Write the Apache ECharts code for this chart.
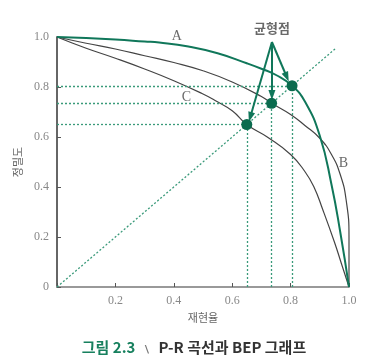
<!DOCTYPE html>
<html><head><meta charset="utf-8">
<script src="https://cdn.jsdelivr.net/npm/echarts@6/dist/echarts.min.js"></script>
<style>html,body{margin:0;padding:0;background:#fff}#c{width:388px;height:356px}</style>
</head><body><div id="c"></div>
<script>
// Curve data (recall, precision)
const curveA = [[0,1.0],[0.1,0.996],[0.2,0.99],[0.3,0.982],[0.35,0.978],[0.45,0.962],[0.55,0.935],[0.65,0.895],[0.7,0.873],[0.75,0.848],[0.805,0.805],[0.85,0.74],[0.9,0.605],[0.94,0.41],[0.97,0.22],[1.0,0.0]];
const curveB = [[0,1.0],[0.1,0.975],[0.2,0.952],[0.3,0.925],[0.4,0.898],[0.5,0.865],[0.6,0.82],[0.7,0.762],[0.735,0.735],[0.8,0.69],[0.85,0.645],[0.9,0.595],[0.94,0.53],[0.97,0.45],[0.99,0.35],[1.0,0.2],[1.0,0.0]];
const curveC = [[0,1.0],[0.1,0.955],[0.2,0.915],[0.3,0.872],[0.4,0.825],[0.5,0.772],[0.54,0.747],[0.6,0.705],[0.65,0.65],[0.72,0.6],[0.8,0.53],[0.85,0.46],[0.88,0.4],[0.91,0.31],[0.95,0.18],[0.975,0.09],[1.0,0.0]];
const bepValues = [0.805, 0.735, 0.65];
const diagonalEnd = 0.955;
const arrowStart = [0.736, 0.98];
const arrowEnds = [[0.787, 0.84], [0.736, 0.768], [0.662, 0.68]];
const curveLabels = [{name:'A', pos:[0.41, 1.004]}, {name:'B', pos:[0.981, 0.495]}, {name:'C', pos:[0.443, 0.759]}];
const calloutText = '균형점';
const calloutPos = [0.736, 1.034];
const xTicks = ['', '0.2', '0.4', '0.6', '0.8', '1.0'];
const yTicks = ['0', '0.2', '0.4', '0.6', '0.8', '1.0'];
const xName = '재현율', yName = '정밀도';

const green = '#10775a', dotGreen = '#0b6b4e', dashGreen = '#3a9a7a', dark = '#444';
const dash = {color: dashGreen, width: 1.3, type: [2, 2]};

const guideLines = [];
bepValues.forEach(v => {
  guideLines.push([{coord:[0, v]}, {coord:[v, v]}]);
  guideLines.push([{coord:[v, 0]}, {coord:[v, v]}]);
});
guideLines.push([{coord:[0, 0]}, {coord:[diagonalEnd, diagonalEnd]}]);

const chart = echarts.init(document.getElementById('c'));
chart.setOption({
  animation: false,
  grid: {left: 57, right: 39, top: 37, bottom: 69},
  title: {
    left: 'center', top: 333,
    text: '{g|그림 2.3} {s|﹨} {t|P-R 곡선과 BEP 그래프}',
    textStyle: {rich: {
      g: {color: '#17805e', fontSize: 15, fontWeight: 'bold', fontFamily: 'Noto Sans CJK KR'},
      s: {color: '#777', fontSize: 13, fontFamily: 'Noto Sans CJK KR'},
      t: {color: '#333', fontSize: 15, fontWeight: 'bold', fontFamily: 'Noto Sans CJK KR'}
    }}
  },
  xAxis: {
    type: 'value', min: 0, max: 1, interval: 0.2,
    name: xName, nameLocation: 'middle', nameGap: 24,
    nameTextStyle: {color: '#666', fontSize: 11, fontFamily: 'Noto Sans CJK KR'},
    axisLine: {lineStyle: {color: '#999', width: 2}},
    axisTick: {inside: true, length: 4, lineStyle: {color: '#555'}},
    axisLabel: {color: '#888', fontSize: 12, fontFamily: 'Liberation Serif', margin: 8,
      formatter: (v) => xTicks[Math.round(v / 0.2)]},
    splitLine: {show: false}
  },
  yAxis: {
    type: 'value', min: 0, max: 1, interval: 0.2,
    name: yName, nameLocation: 'middle', nameGap: 26, nameRotate: 90,
    nameTextStyle: {color: '#666', fontSize: 11, fontFamily: 'Noto Sans CJK KR'},
    axisLine: {show: true, lineStyle: {color: '#666', width: 2}},
    axisTick: {show: true, inside: true, length: 4, lineStyle: {color: '#555'}},
    axisLabel: {color: '#888', fontSize: 12, fontFamily: 'Liberation Serif', margin: 8,
      formatter: (v) => yTicks[Math.round(v / 0.2)]},
    splitLine: {show: false}
  },
  series: [
    {type: 'line', data: [], markLine: {silent: true, symbol: ['none','none'], lineStyle: dash, label: {show: false}, data: guideLines}},
    {type: 'line', data: curveC, smooth: 0.5, showSymbol: false, lineStyle: {color: dark, width: 1.2}},
    {type: 'line', data: curveB, smooth: 0.5, showSymbol: false, lineStyle: {color: dark, width: 1.2}},
    {type: 'line', data: curveA, smooth: 0.5, showSymbol: false, lineStyle: {color: green, width: 2}},
    {type: 'scatter', data: bepValues.map(v => [v, v]), symbolSize: 11, itemStyle: {color: dotGreen, opacity: 1}, z: 5},
    {type: 'line', data: [], markLine: {silent: true, symbol: ['none', 'triangle'], symbolSize: [7, 10],
      lineStyle: {color: green, width: 2, type: 'solid'}, label: {show: false},
      data: arrowEnds.map(e => [{coord: arrowStart}, {coord: e}])}, z: 6},
    {type: 'scatter', clip: false, data: curveLabels.map(l => ({value: l.pos, name: l.name})), symbolSize: 1,
      itemStyle: {color: 'rgba(0,0,0,0)'},
      label: {show: true, position: 'inside', formatter: (p) => p.name, color: '#444', fontSize: 14, fontFamily: 'Liberation Serif'}},
    {type: 'scatter', clip: false, data: [calloutPos], symbolSize: 1, itemStyle: {color: 'rgba(0,0,0,0)'},
      label: {show: true, position: 'inside', formatter: calloutText, color: '#444', fontSize: 13, fontWeight: 'bold', fontFamily: 'Noto Sans CJK KR'}}
  ]
});
</script></body></html>
